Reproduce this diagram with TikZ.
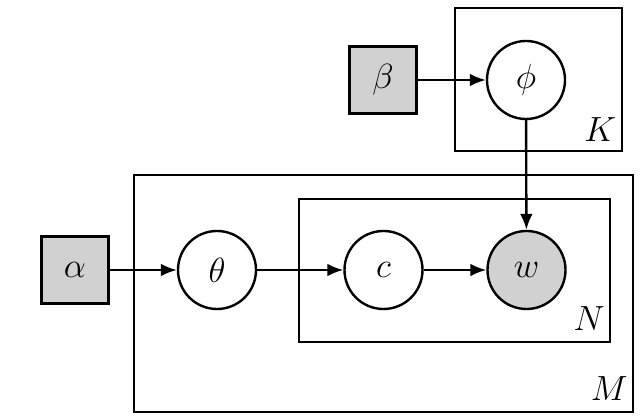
\documentclass[tikz,border=0pt]{standalone}
\usepackage{amsmath,amssymb}
\usepackage{tikz}
\usetikzlibrary{positioning,arrows.meta}

\begin{document}
\begin{tikzpicture}[
    x=0.025cm,y=-0.025cm,
    font=\fontsize{25}{29}\selectfont,>={Latex[length=4mm,width=3.2mm]},
    hyper/.style={draw,rectangle,fill=black!18,minimum size=1.675cm,
      line width=1.7pt,inner sep=0pt},
    latent/.style={draw,circle,fill=white,minimum size=1.95cm,
      line width=1.7pt,inner sep=0pt},
    observed/.style={latent,fill=black!18},
    plate/.style={draw,rectangle,line width=1.7pt,inner sep=0pt},
    platelabel/.style={inner sep=0pt},
    edge/.style={->,line width=1.7pt}
]
\useasboundingbox (0,0) rectangle (640,419);

% plates
\node[plate,minimum width=4.175cm,minimum height=3.575cm] (plateK) at (538.5,79.5) {};
\node[plate,minimum width=12.475cm,minimum height=5.925cm] (plateM) at (383.5,293.5) {};
\node[plate,minimum width=7.775cm,minimum height=3.575cm] (plateN) at (454.5,270.5) {};

\node[platelabel] at ([shift={(-23,-23)}]plateK.south east) {$K$};
\node[platelabel] at ([shift={(-22,-25)}]plateN.south east) {$N$};
\node[platelabel] at ([shift={(-25,-25)}]plateM.south east) {$M$};

% variables
\node[hyper]    (beta)  at (383,80)  {$\beta$};
\node[latent]   (phi)   at (526,80)  {$\phi$};
\node[hyper]    (alpha) at (75,270)  {$\alpha$};
\node[latent]   (theta) at (217,270) {$\theta$};
\node[latent]   (c)     at (383.5,270) {$c$};
\node[observed] (w)     at (526.5,270) {$w$};

\draw[edge] (beta) -- (phi);
\draw[edge] (phi) -- (w);
\draw[edge] (alpha) -- (theta);
\draw[edge] (theta) -- (c);
\draw[edge] (c) -- (w);
\end{tikzpicture}
\end{document}
